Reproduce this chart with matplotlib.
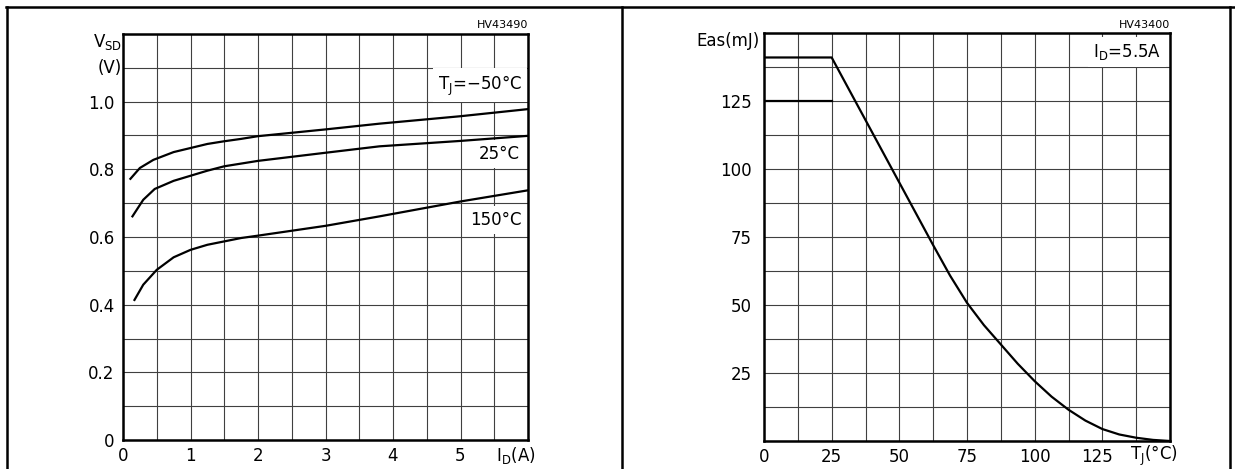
import matplotlib.pyplot as plt
import numpy as np
from matplotlib.lines import Line2D
from matplotlib.transforms import ScaledTranslation


# source-drain diode forward voltage vs drain current
id_m50 = [0.11, 0.25, 0.45, 0.75, 1.0, 1.25, 1.5, 1.75, 2.0, 3.0, 3.8, 5.0, 6.0]
vsd_m50 = [0.772, 0.804, 0.828, 0.851, 0.863, 0.875, 0.883, 0.890, 0.898, 0.918, 0.935, 0.957, 0.978]
id_25 = [0.14, 0.30, 0.47, 0.75, 1.0, 1.25, 1.5, 1.75, 2.0, 3.0, 3.8, 5.0, 6.0]
vsd_25 = [0.661, 0.710, 0.742, 0.766, 0.781, 0.796, 0.809, 0.817, 0.825, 0.849, 0.868, 0.884, 0.899]
id_150 = [0.17, 0.30, 0.50, 0.75, 1.0, 1.25, 1.5, 1.75, 2.0, 3.0, 3.8, 5.0, 6.0]
vsd_150 = [0.414, 0.459, 0.503, 0.540, 0.562, 0.577, 0.587, 0.597, 0.604, 0.633, 0.661, 0.705, 0.738]

id_ticks = [0, 1, 2, 3, 4, 5]
vsd_ticks = [0, 0.2, 0.4, 0.6, 0.8, 1.0]
vsd_ticklabels = ["0", "0.2", "0.4", "0.6", "0.8", "1.0"]

# single pulse avalanche energy vs starting junction temperature
tj = [0, 25, 37.5, 50, 62.5, 68.75, 75, 81.25, 87.5, 93.75, 100, 106.25,
      112.5, 118.75, 125, 131.25, 137.5, 143.75, 150]
eas = [141, 141, 118, 95, 72, 60.8, 50.8, 42.6, 35.5, 28.4, 22.0, 16.3,
       11.5, 7.5, 4.4, 2.4, 1.2, 0.4, 0]
eas_ref_t = [0, 25]
eas_ref = [125, 125]

tj_ticks = [0, 25, 50, 75, 100, 125]
eas_ticks = [25, 50, 75, 100, 125]

W, H = 1235, 469
plt.rcParams['font.family'] = ['DejaVu Sans']
plt.rcParams['mathtext.default'] = 'regular'

fig = plt.figure(figsize=(W / 100, H / 100), dpi=100)


def px_axes(x0, y0, x1, y1):
    # axes placed by pixel box (top-left origin)
    return fig.add_axes([x0 / W, (H - y1) / H, (x1 - x0) / W, (y1 - y0) / H])


def grid_style(ax):
    ax.set_axisbelow(True)
    ax.grid(which='both', color='0.25', lw=0.8)
    ax.tick_params(which='both', length=0, labelsize=12, pad=5)
    for s in ax.spines.values():
        s.set_linewidth(1.8)
        s.set_zorder(4)


def box_text(ax, x, y, s, **kw):
    ax.text(x, y, s, ha='right', va='center', fontsize=12, zorder=3,
            bbox=dict(fc='white', ec='none', pad=3.5), **kw)


# ---- left: VSD vs ID
ax1 = px_axes(123, 34, 528, 440)
for xs, ys in [(id_m50, vsd_m50), (id_25, vsd_25), (id_150, vsd_150)]:
    ax1.plot(xs, ys, color='black', lw=1.6, zorder=3.5)
ax1.set_xlim(0, 6)
ax1.set_ylim(0, 1.2)
ax1.set_xticks(id_ticks)
ax1.set_xticks(np.arange(0, 6.01, 0.5), minor=True)
ax1.set_yticks(vsd_ticks, vsd_ticklabels)
ax1.set_yticks(np.arange(0, 1.21, 0.1), minor=True)
grid_style(ax1)
ax1.tick_params(axis='y', pad=6)

box_text(ax1, 5.91, 1.048, r'T$_{J}$=−50°C')
box_text(ax1, 5.88, 0.845, '25°C')
box_text(ax1, 5.91, 0.65, '150°C')

ax1.text(-0.01, 1.175, r'V$_{SD}$', ha='right', va='center', fontsize=12)
ax1.text(-0.02, 1.1, '(V)', ha='right', va='center', fontsize=12)
ax1.text(5.82, -0.047, r'I$_{D}$(A)', ha='center', va='center', fontsize=12)
ax1.text(1.0, 1.022, 'HV43490', transform=ax1.transAxes, ha='right',
         va='center', fontsize=8)

# ---- right: Eas vs TJ
ax2 = px_axes(764, 33, 1170, 441)
ax2.plot(tj, eas, color='black', lw=1.6, zorder=3.5)
ax2.plot(eas_ref_t, eas_ref, color='black', lw=1.6, zorder=3.5)
ax2.set_xlim(0, 150)
ax2.set_ylim(0, 150)
ax2.set_xticks(tj_ticks)
ax2.set_xticks(np.arange(0, 150.1, 12.5), minor=True)
ax2.set_yticks(eas_ticks)
ax2.set_yticks(np.arange(0, 150.1, 12.5), minor=True)
grid_style(ax2)
ax2.tick_params(axis='y', pad=9)
lab125 = ax2.get_xticklabels()[-1]
lab125.set_transform(lab125.get_transform() + ScaledTranslation(-5 / 100, 0, fig.dpi_scale_trans))

box_text(ax2, 146.7, 143, r'I$_{D}$=5.5A')

ax2.text(-1.5, 147, 'Eas(mJ)', ha='right', va='center', fontsize=12)
ax2.text(144, -5.5, r'T$_{J}$(°C)', ha='center', va='center', fontsize=12)
ax2.text(1.0, 1.02, 'HV43400', transform=ax2.transAxes, ha='right',
         va='center', fontsize=8)

# ---- page frame lines
def frame_line(x0, y0, x1, y1):
    fig.add_artist(Line2D([x0 / W, x1 / W], [1 - y0 / H, 1 - y1 / H],
                          transform=fig.transFigure, color='black', lw=1.8))


frame_line(6, 7, W, 7)
frame_line(7, 7, 7, H)
frame_line(622, 7, 622, H)
frame_line(1230, 7, 1230, H)

fig.savefig('out.png', dpi=100)
